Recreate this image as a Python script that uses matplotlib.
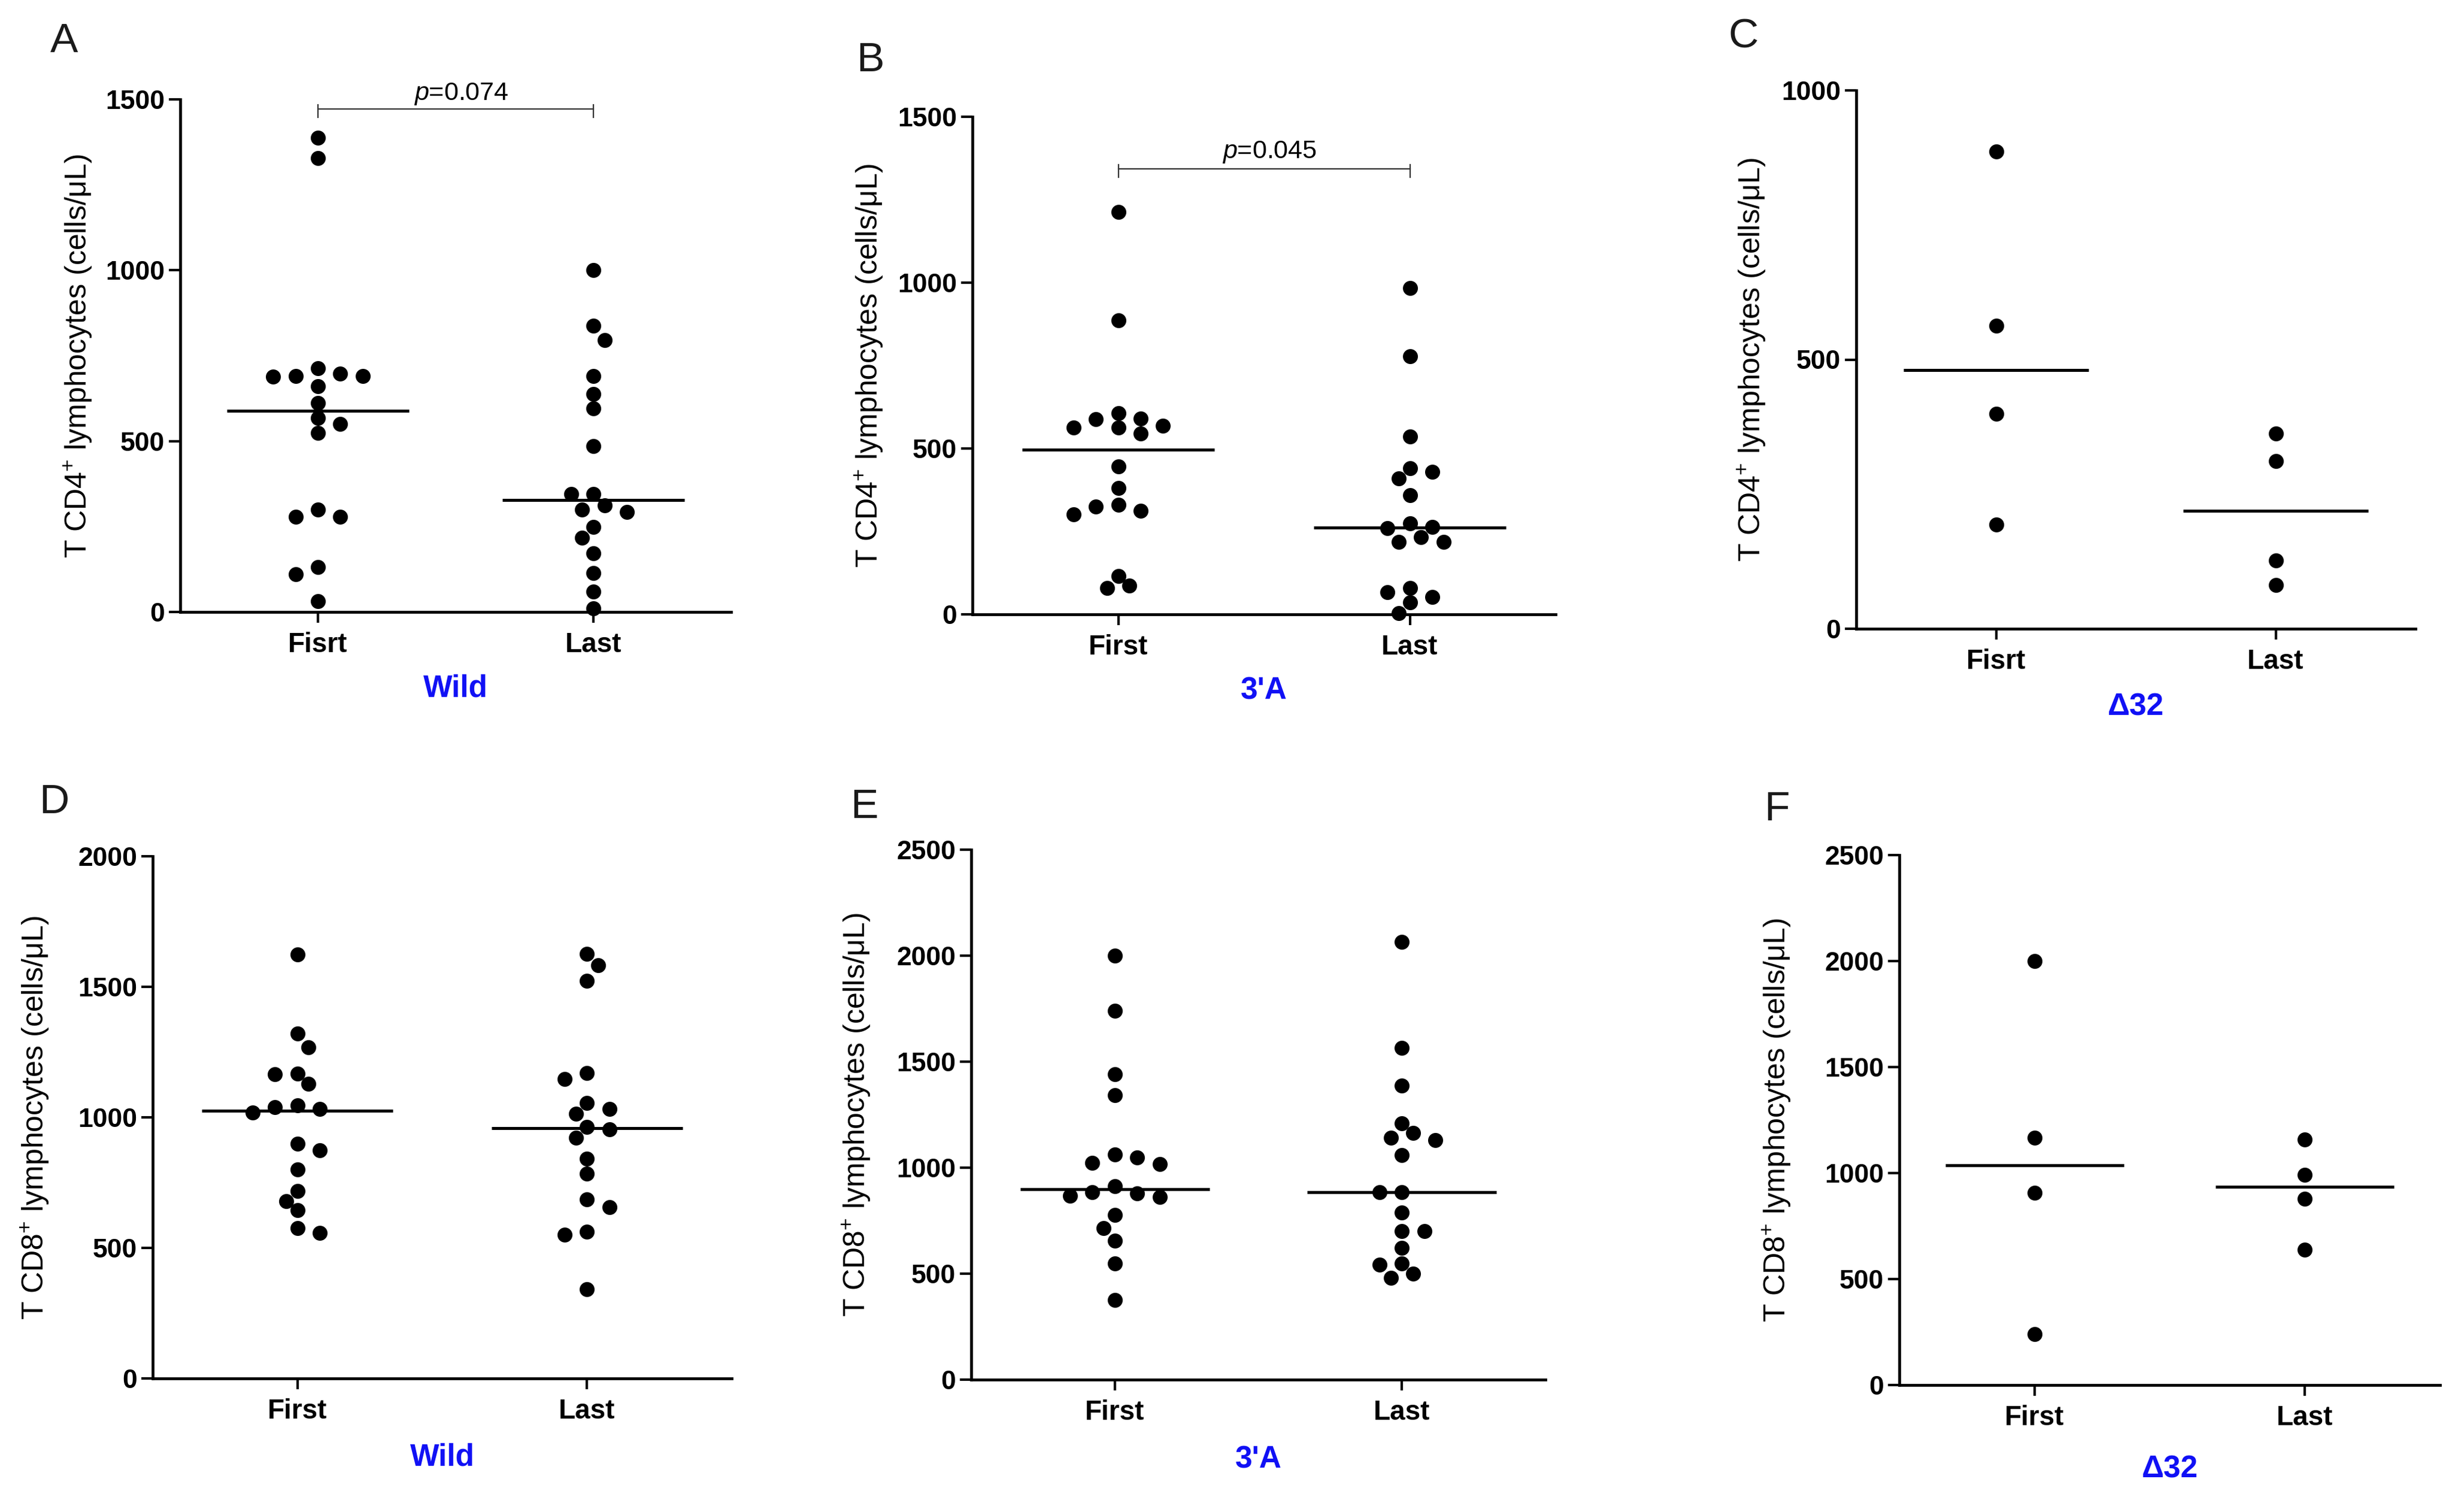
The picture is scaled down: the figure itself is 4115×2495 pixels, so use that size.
import numpy as np
import matplotlib
matplotlib.use("Agg")
import matplotlib.pyplot as plt

plt.rcParams['font.family'] = ['Liberation Sans', 'DejaVu Sans']
plt.rcParams['mathtext.fontset'] = 'custom'
plt.rcParams['mathtext.rm'] = 'Liberation Sans'
plt.rcParams['mathtext.it'] = 'Liberation Sans:italic'
plt.rcParams['mathtext.bf'] = 'Liberation Sans:bold'

# ---------------- data ----------------
categories_A = ["Fisrt", "Last"]
categories_B = ["First", "Last"]
categories_C = ["Fisrt", "Last"]
categories_D = ["First", "Last"]
categories_E = ["First", "Last"]
categories_F = ["First", "Last"]

wild_cd4_first = [1387, 1329, 714, 698, 691, 691, 689, 661, 611, 568, 551, 524, 299, 279, 279, 132, 111, 31]
wild_cd4_last = [1000, 837, 796, 691, 638, 595, 486, 345, 345, 312, 299, 293, 248, 218, 172, 114, 60, 11]
a3_cd4_first = [1213, 886, 607, 590, 589, 568, 563, 563, 545, 446, 381, 330, 325, 312, 302, 115, 86, 80]
a3_cd4_last = [983, 778, 537, 440, 429, 409, 360, 274, 263, 260, 233, 219, 219, 80, 67, 53, 36, 4]
d32_cd4_first = [887, 563, 399, 193]
d32_cd4_last = [363, 311, 127, 81]

wild_cd8_first = [1625, 1320, 1269, 1167, 1165, 1129, 1045, 1040, 1033, 1018, 900, 873, 800, 718, 680, 645, 576, 558]
wild_cd8_last = [1627, 1582, 1522, 1169, 1147, 1055, 1033, 1013, 964, 955, 922, 842, 785, 685, 655, 562, 551, 342]
a3_cd8_first = [2000, 1740, 1440, 1342, 1062, 1047, 1024, 1017, 912, 883, 879, 868, 861, 778, 716, 655, 548, 376]
a3_cd8_last = [2064, 1565, 1386, 1208, 1163, 1140, 1129, 1058, 883, 883, 789, 700, 700, 622, 548, 543, 499, 481]
d32_cd8_first = [2000, 1166, 908, 240]
d32_cd8_last = [1159, 991, 879, 639]

yticks_cd4 = [0, 500, 1000, 1500]
yticks_cd4_d32 = [0, 500, 1000]
yticks_cd8_wild = [0, 500, 1000, 1500, 2000]
yticks_cd8 = [0, 500, 1000, 1500, 2000, 2500]

panel_letters = ["A", "B", "C", "D", "E", "F"]
group_names = ["Wild", "3'A", "\u039432", "Wild", "3'A", "\u039432"]
ylabel_cd4 = "T CD4$^{+}$ lymphocytes (cells/\u03bcL)"
ylabel_cd8 = "T CD8$^{+}$ lymphocytes (cells/\u03bcL)"
p_text_A = "$p$=0.074"
p_text_B = "$p$=0.045"

# ---------------- layout (pixels) ----------------
W, H = 4115, 2495
DPI = 100
fig = plt.figure(figsize=(W / DPI, H / DPI), dpi=DPI)
fig.patch.set_facecolor("white")

def fx(x):
    return x / W

def fy(y):
    return 1 - y / H

PT = DPI / 72.0
DOT_PX = 25
STEP_PX = 18.7
DMIN_PX = 24
BLUE = "#1010f5"

panels = [
    # left, right, top, bottom (px), ymax, yticks, cats, first, last, ylabel, ylabel_dx
    dict(box=(301, 1221, 166, 1022), ymax=1500, yt=yticks_cd4, cats=categories_A,
         data=(wild_cd4_first, wild_cd4_last), yl=ylabel_cd4, yldx=171,
         letter=(84, 87), grp_dy=124),
    dict(box=(1624, 2598, 195, 1026), ymax=1500, yt=yticks_cd4, cats=categories_B,
         data=(a3_cd4_first, a3_cd4_last), yl=ylabel_cd4, yldx=173,
         letter=(1430, 119), grp_dy=123),
    dict(box=(3100, 4034, 151, 1050), ymax=1000, yt=yticks_cd4_d32, cats=categories_C,
         data=(d32_cd4_first, d32_cd4_last), yl=ylabel_cd4, yldx=175,
         letter=(2886, 80), grp_dy=127),
    dict(box=(255, 1222, 1430, 2302), ymax=2000, yt=yticks_cd8_wild, cats=categories_D,
         data=(wild_cd8_first, wild_cd8_last), yl=ylabel_cd8, yldx=197,
         letter=(65, 1358), grp_dy=128),
    dict(box=(1622, 2581, 1419, 2304), ymax=2500, yt=yticks_cd8, cats=categories_E,
         data=(a3_cd8_first, a3_cd8_last), yl=ylabel_cd8, yldx=192,
         letter=(1420, 1366), grp_dy=130),
    dict(box=(3172, 4075, 1428, 2313), ymax=2500, yt=yticks_cd8, cats=categories_F,
         data=(d32_cd8_first, d32_cd8_last), yl=ylabel_cd8, yldx=205,
         letter=(2946, 1370), grp_dy=136),
]


def swarm_offsets(values, px_per_unit):
    vals = np.asarray(values, dtype=float)
    order = np.argsort(-vals, kind="stable")
    placed = []
    offs = np.zeros(len(vals))
    for i in order:
        y = vals[i] * px_per_unit
        chosen = 0
        for k in range(0, 40):
            cands = [0] if k == 0 else [k, -k]
            valid = [c for c in cands
                     if all((c * STEP_PX - px) ** 2 + (y - py) ** 2 >= DMIN_PX ** 2
                            for px, py in placed)]
            if valid:
                if len(valid) == 2:
                    nl = sum(1 for px, _ in placed if px < 0)
                    nr = sum(1 for px, _ in placed if px > 0)
                    chosen = valid[1] if nl < nr else valid[0]
                else:
                    chosen = valid[0]
                break
        placed.append((chosen * STEP_PX, y))
        offs[i] = chosen * STEP_PX
    return offs


axes = []
for idx, p in enumerate(panels):
    L, R, T, B = p["box"]
    ax = fig.add_axes([fx(L), fy(B), fx(R - L), (B - T) / H])
    axes.append(ax)
    ax.set_xlim(-0.5, 1.5)
    ax.set_ylim(0, p["ymax"])
    for s in ["top", "right"]:
        ax.spines[s].set_visible(False)
    for s in ["left", "bottom"]:
        ax.spines[s].set_linewidth(3.4)
        ax.spines[s].set_color("black")
    ax.set_yticks(p["yt"])
    ax.set_yticklabels([str(v) for v in p["yt"]], fontsize=32, fontweight="bold")
    ax.set_xticks([0, 1])
    ax.set_xticklabels(p["cats"], fontsize=33, fontweight="bold")
    ax.tick_params(axis="y", length=19 / PT, width=3.0, pad=7 / PT, direction="out")
    ax.tick_params(axis="x", length=18 / PT, width=3.0, pad=15 / PT, direction="out")

    px_per_unit = (B - T) / p["ymax"]
    data_per_px_x = 2.0 / (R - L)
    for ci, vals in enumerate(p["data"]):
        offs = swarm_offsets(vals, px_per_unit)
        xs = ci + offs * data_per_px_x
        ax.plot(xs, vals, linestyle="none", marker="o", markersize=DOT_PX / PT,
                markerfacecolor="black", markeredgecolor="black", markeredgewidth=0,
                clip_on=False, zorder=3)
        med = np.median(vals)
        ax.plot([ci - 0.33, ci + 0.33], [med, med], color="black", lw=3.6,
                solid_capstyle="butt", zorder=4, clip_on=False)

    # y label
    fig.text(fx(L - p["yldx"]), fy((T + B) / 2), p["yl"], rotation=90,
             ha="center", va="center", fontsize=36, color="black")
    # group label
    fig.text(fx((L + R) / 2), fy(B + p["grp_dy"] + 18), group_names[idx],
             ha="center", va="baseline", fontsize=37, fontweight="bold", color=BLUE)
    # panel letter
    fig.text(fx(p["letter"][0]), fy(p["letter"][1]), panel_letters[idx],
             ha="left", va="baseline", fontsize=50, color="#1a1a1a")

# significance brackets
def bracket(ax, box, ymax, y_px, text, text_base_px, text_cx_px):
    L, R, T, B = box
    upp = ymax / (B - T)
    yv = ymax - (y_px - T) * upp
    up = 7 * upp
    dn = 14 * upp
    ax.plot([0, 1], [yv, yv], color="#333333", lw=1.6, clip_on=False, zorder=5)
    for xv in (0, 1):
        ax.plot([xv, xv], [yv - dn, yv + up], color="#333333", lw=1.6,
                clip_on=False, zorder=5)
    fig.text(fx(text_cx_px), fy(text_base_px), text, ha="center", va="baseline",
             fontsize=31, color="black")

bracket(axes[0], panels[0]["box"], panels[0]["ymax"], 182, p_text_A, 167, 770)
bracket(axes[1], panels[1]["box"], panels[1]["ymax"], 282, p_text_B, 264, 2120)

fig.savefig("out.png", dpi=DPI, facecolor="white")
